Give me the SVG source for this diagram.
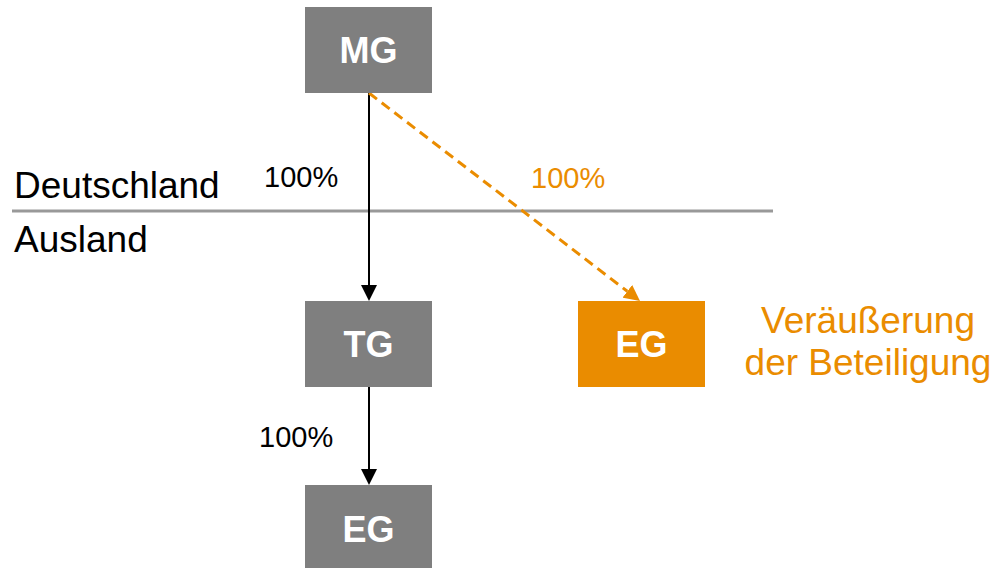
<svg xmlns="http://www.w3.org/2000/svg" width="997" height="568" viewBox="0 0 997 568">
  <style>
    text { font-family: "Liberation Sans", Arial, sans-serif; }
    .box { fill: #7f7f7f; }
    .box-sold { fill: #ea8c00; }
    .box-label { font-size: 36px; font-weight: bold; fill: #ffffff; text-anchor: middle; }
    .region { font-size: 37px; fill: #000000; }
    .pct { font-size: 29px; fill: #000000; }
    .pct-sold { font-size: 29px; fill: #ea8c00; }
    .note { font-size: 37px; fill: #ea8c00; text-anchor: middle; }
    .link { stroke: #000000; stroke-width: 2; fill: none; }
    .link-sold { stroke: #ea8c00; stroke-width: 3; fill: none; stroke-dasharray: 10 6; }
    .border { stroke: #999999; stroke-width: 3; }
  </style>
  <defs>
    <marker id="arrow" markerUnits="userSpaceOnUse" markerWidth="16" markerHeight="16" refX="0" refY="8" orient="auto">
      <path d="M0,0 L16,8 L0,16 z" fill="#000000"/>
    </marker>
    <marker id="arrow-sold" markerUnits="userSpaceOnUse" markerWidth="16" markerHeight="16" refX="0" refY="8" orient="auto">
      <path d="M0,0 L16,8 L0,16 z" fill="#ea8c00"/>
    </marker>
  </defs>

  <rect width="997" height="568" fill="#ffffff"/>

  <!-- country border -->
  <g id="border">
    <line class="border" x1="12" y1="211" x2="773" y2="211"/>
    <text class="region" x="14" y="198">Deutschland</text>
    <text class="region" x="14" y="252">Ausland</text>
  </g>

  <!-- ownership links -->
  <g id="connectors">
    <line class="link" x1="369" y1="93" x2="369" y2="285" marker-end="url(#arrow)"/>
    <line class="link" x1="369" y1="386" x2="369" y2="469" marker-end="url(#arrow)"/>
    <line class="link-sold" x1="369" y1="93" x2="627.3" y2="291.3" marker-end="url(#arrow-sold)"/>
    <text class="pct" x="264" y="187">100%</text>
    <text class="pct-sold" x="531" y="188">100%</text>
    <text class="pct" x="259" y="447">100%</text>
  </g>

  <g id="mg">
    <rect class="box" x="305" y="7" width="127" height="86"/>
    <text class="box-label" x="368.5" y="63">MG</text>
  </g>

  <g id="tg">
    <rect class="box" x="305" y="301" width="127" height="86"/>
    <text class="box-label" x="368.5" y="357">TG</text>
  </g>

  <g id="eg-sold">
    <rect class="box-sold" x="578" y="301" width="127" height="86"/>
    <text class="box-label" x="641.5" y="357">EG</text>
    <text class="note" x="868" y="333">Veräußerung</text>
    <text class="note" x="868" y="375">der Beteiligung</text>
  </g>

  <g id="eg">
    <rect class="box" x="305" y="485" width="127" height="90"/>
    <text class="box-label" x="368.5" y="542">EG</text>
  </g>
</svg>
